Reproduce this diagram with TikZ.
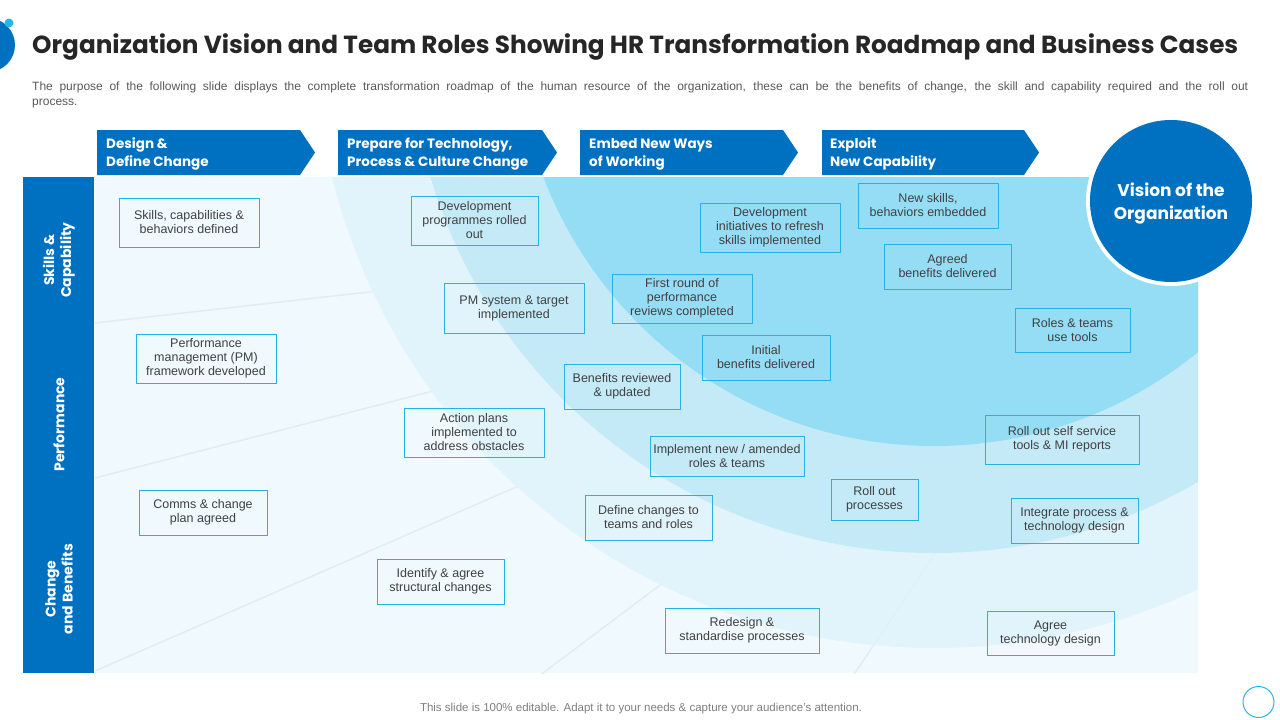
\documentclass[tikz,border=0pt]{standalone}
\usepackage{fontspec}
\setmainfont{Liberation Sans}
\newfontfamily\gothic{Poppins}
\usetikzlibrary{calc}
\definecolor{mainblue}{HTML}{0070C0}
\definecolor{basecol}{HTML}{F0F9FD}
\definecolor{ringA}{HTML}{E1F4FC}
\definecolor{ringB}{HTML}{C4EAF8}
\definecolor{ringC}{HTML}{95DCF5}
\definecolor{boxline}{HTML}{27B2E6}
\definecolor{boxtext}{HTML}{404040}
\definecolor{desctext}{HTML}{595959}
\definecolor{foottext}{HTML}{7F7F7F}
\definecolor{spokecol}{HTML}{E2ECF1}
\definecolor{dotcol}{HTML}{29B5EA}
\begin{document}
\begin{tikzpicture}[x=1pt,y=-1pt,
  box/.style={draw=boxline, line width=0.9pt, inner sep=0pt, align=center,
    font=\fontsize{12.5}{14}\selectfont, text=boxtext},
  hdrtext/.style={anchor=west, align=left, text=white, inner sep=0pt,
    font=\gothic\bfseries\fontsize{13.5}{18}\selectfont},
  sidetext/.style={rotate=90, align=center, text=white, inner sep=0pt,
    font=\gothic\bfseries\fontsize{14}{17}\selectfont},
  hdrarrow/.style={fill=mainblue},
  spoke/.style={draw=spokecol, line width=1.5pt}
]
\useasboundingbox (0,0) rectangle (1280,720);
\fill[white] (0,0) rectangle (1280,720);

% top-left decoration
\fill[mainblue] (-12,45) circle[radius=27pt];
\fill[dotcol] (9,23) circle[radius=4.5pt];

% title
\node[anchor=west, inner sep=0pt, text=black!85] (title) at (32,46.5)
  {\resizebox{1206pt}{!}{\gothic\bfseries\fontsize{26}{30}\selectfont Organization Vision and Team Roles Showing HR Transformation Roadmap and Business Cases}};

% description
\node[anchor=north west, inner sep=0pt, text width=1216pt, align=justify, text=desctext,
  font=\fontsize{12}{15.5}\selectfont] (desc) at (32,81.5)
  {The purpose of the following slide displays the complete transformation roadmap of the human resource of the organization, these can be the benefits of change, the skill and capability required and the roll out\linebreak process.};

% panel background and rings
\fill[basecol] (95,177) rectangle (1198,673);
\begin{scope}
  \clip (95,177) rectangle (1198,673);
  \coordinate (vc) at (1171,201);
  \coordinate (s1) at (95,323);
  \coordinate (s2) at (95,478);
  \coordinate (s3) at (95,671);
  \coordinate (s4) at (543,673);
  \coordinate (s5) at (855,673);
  \draw[spoke] (vc) -- (s1);
  \draw[spoke] (vc) -- (s2);
  \draw[spoke] (vc) -- ($(vc)!1.1!(s3)$);
  \draw[spoke] (vc) -- ($(vc)!1.1!(s4)$);
  \draw[spoke] (vc) -- ($(vc)!1.1!(s5)$);
  \fill[ringA] (934,28) circle[radius=620pt];
  \draw[spokecol!60!ringA, line width=1pt] (vc) -- ($(vc)!1.1!(s5)$);
  \fill[ringB] (934,28) circle[radius=525pt];
  \fill[ringC] (934,28) circle[radius=418pt];
\end{scope}

% left sidebar
\fill[mainblue] (23,177) rectangle (94,673);
\node[sidetext] (sk) at (59,260) {Skills \&\\Capability};
\node[sidetext] (pf) at (59,424.5) {Performance};
\node[sidetext] (cb) at (59,589) {Change\\and Benefits};

% header arrows
\fill[hdrarrow] (97,130) -- (300,130) -- (315,152.5) -- (300,175) -- (97,175) -- cycle;
\fill[hdrarrow] (338,130) -- (542,130) -- (557,152.5) -- (542,175) -- (338,175) -- cycle;
\fill[hdrarrow] (580,130) -- (783,130) -- (798,152.5) -- (783,175) -- (580,175) -- cycle;
\fill[hdrarrow] (822,130) -- (1024,130) -- (1039,152.5) -- (1024,175) -- (822,175) -- cycle;
\node[hdrtext] (h1) at (106,154) {Design \&\\Define Change};
\node[hdrtext] (h2) at (347,154) {Prepare for Technology,\\Process \& Culture Change};
\node[hdrtext] (h3) at (589,154) {Embed New Ways\\of Working};
\node[hdrtext] (h4) at (830,154) {Exploit\\New Capability};

% vision circle
\fill[white] (1171,201) circle[radius=85pt];
\node[circle, fill=mainblue, minimum size=162pt, inner sep=0pt] (vision) at (1171,201) {};
\node[align=center, text=white, inner sep=0pt,
  font=\gothic\bfseries\fontsize{17}{23}\selectfont] (visiontext) at (1171,204) {Vision of the\\Organization};

% boxes
\node[box, minimum width=140pt, minimum height=49pt] (b1) at (189,222.5) {Skills, capabilities \&\\behaviors defined};
\node[box, minimum width=140pt, minimum height=49pt] (b2) at (206,358.5) {Performance\\management (PM)\\framework developed};
\node[box, minimum width=128pt, minimum height=45pt] (b3) at (203,512.5) {Comms \& change\\plan agreed};
\node[box, minimum width=127pt, minimum height=49pt] (b4) at (474.5,220.5) {Development\\programmes rolled\\out};
\node[box, minimum width=140pt, minimum height=50pt] (b5) at (514,308) {PM system \& target\\implemented};
\node[box, minimum width=140pt, minimum height=49pt] (b6) at (474,432.5) {Action plans\\implemented to\\address obstacles};
\node[box, minimum width=127pt, minimum height=45pt] (b7) at (440.5,581.5) {Identify \& agree\\structural changes};
\node[box, minimum width=116pt, minimum height=45pt] (b8) at (622,386.5) {Benefits reviewed\\\& updated};
\node[box, minimum width=127pt, minimum height=45pt] (b9) at (648.5,517.5) {Define changes to\\teams and roles};
\node[box, minimum width=140pt, minimum height=49pt] (b10) at (682,298.5) {First round of\\performance\\reviews completed};
\node[box, minimum width=140pt, minimum height=49pt] (b11) at (770,227.5) {Development\\initiatives to refresh\\skills implemented};
\node[box, minimum width=128pt, minimum height=45pt] (b12) at (766,357.5) {Initial\\benefits delivered};
\node[box, minimum width=154pt, minimum height=40pt] (b13) at (727,456) {Implement new / amended\\roles \& teams};
\node[box, minimum width=154pt, minimum height=45pt] (b14) at (742,630.5) {Redesign \&\\standardise processes};
\node[box, minimum width=140pt, minimum height=45pt] (b15) at (928,205.5) {New skills,\\behaviors embedded};
\node[box, minimum width=127pt, minimum height=45pt] (b16) at (947.5,266.5) {Agreed\\benefits delivered};
\node[box, minimum width=115pt, minimum height=44pt] (b17) at (1072.5,330) {Roles \& teams\\use tools};
\node[box, minimum width=154pt, minimum height=49pt] (b18) at (1062,439.5) {Roll out self service\\tools \& MI reports};
\node[box, minimum width=87pt, minimum height=41pt] (b19) at (874.5,499.5) {Roll out\\processes};
\node[box, minimum width=127pt, minimum height=45pt] (b20) at (1074.5,520.5) {Integrate process \&\\technology design};
\node[box, minimum width=127pt, minimum height=44pt] (b21) at (1050.5,633.5) {Agree\\technology design};

% footer
\node[text=foottext, inner sep=0pt, font=\fontsize{11.5}{13}\selectfont] (foot) at (641,708.5)
  {This slide is 100\% editable. Adapt it to your needs \& capture your audience’s attention.};
\node[circle, draw=dotcol, line width=1pt, minimum size=31pt, inner sep=0pt] (corner) at (1258.5,702) {};
\end{tikzpicture}
\end{document}
